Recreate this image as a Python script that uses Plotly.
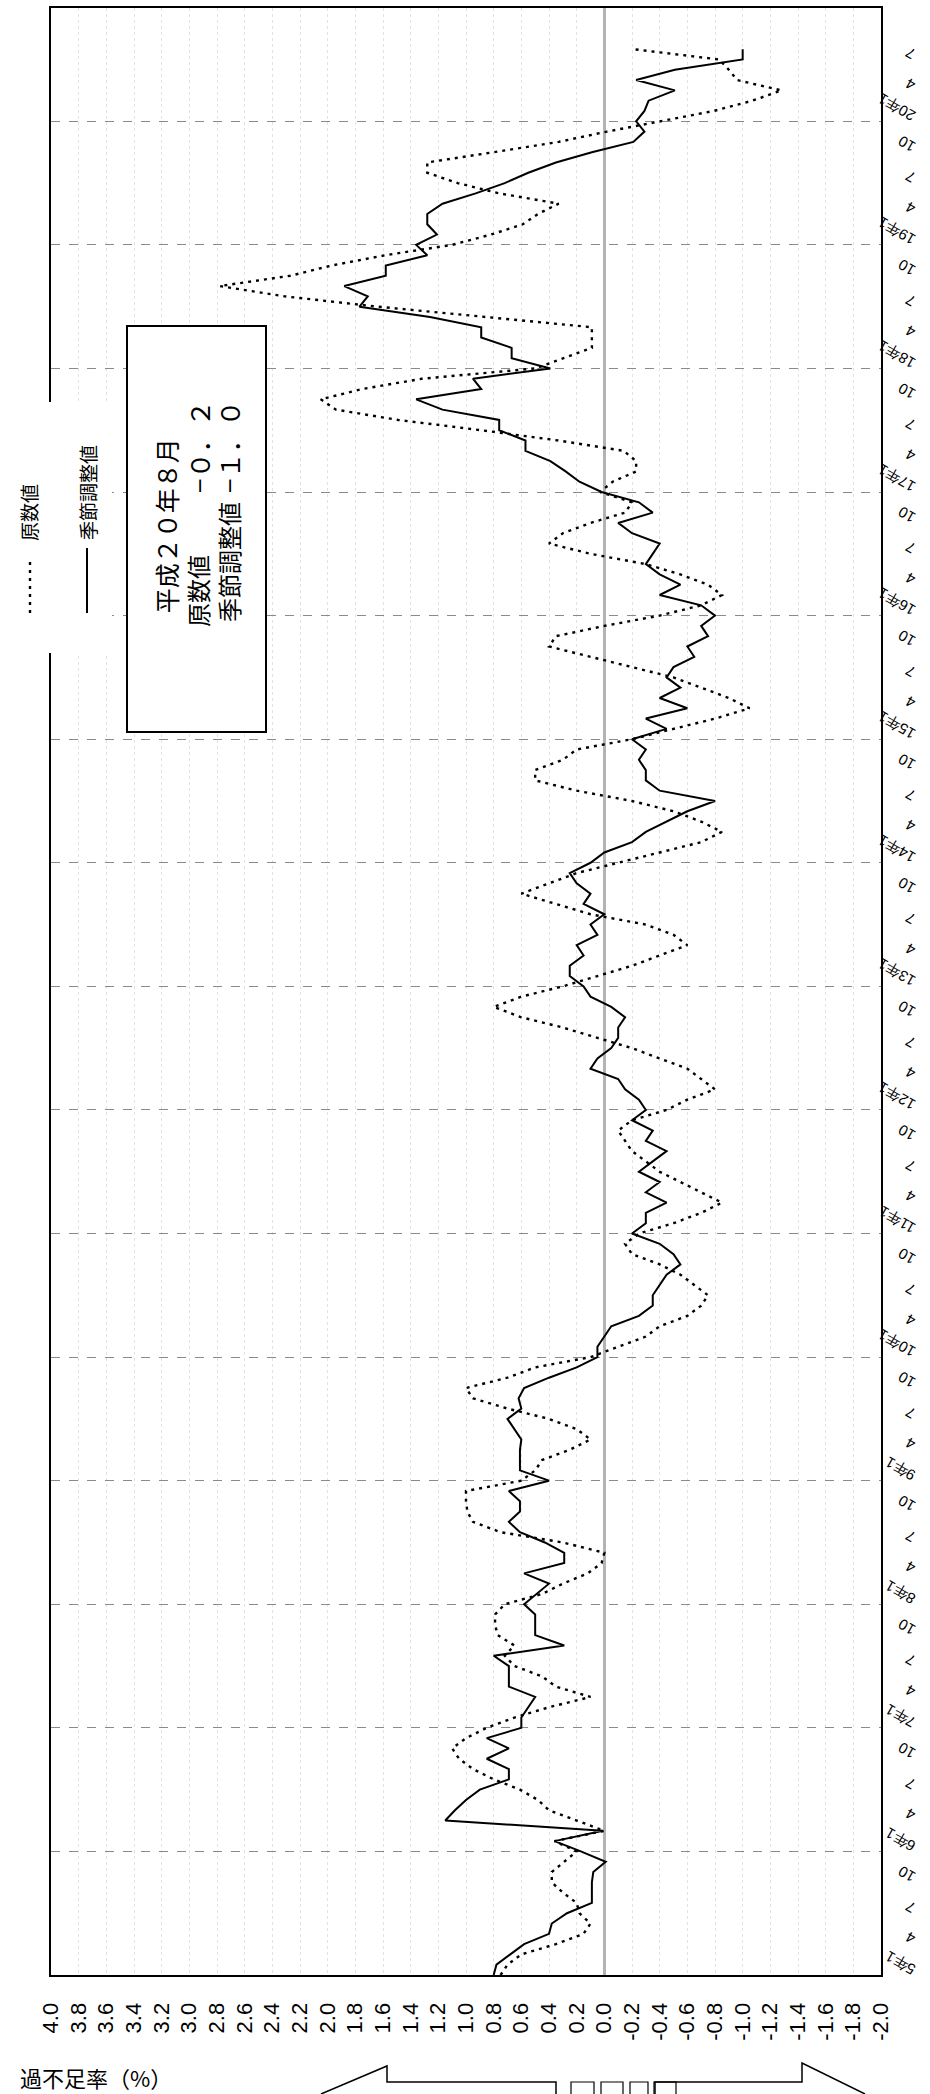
import plotly.graph_objects as go

# ---------------- data (平成5年1月 = index 0, monthly) ----------------
start_year = 5

# 季節調整値
sa = [
    0.80, 0.78, 0.68, 0.58, 0.40, 0.38, 0.27, 0.09, 0.09, 0.09, 0.08, -0.01,   # 5年
    0.17, 0.36, 0.01, 1.15, 1.08, 1.00, 0.90, 0.69, 0.69, 0.85, 0.69, 0.85,    # 6年
    0.60, 0.60, 0.55, 0.50, 0.69, 0.69, 0.69, 0.80, 0.29, 0.50, 0.50, 0.50,    # 7年
    0.58, 0.49, 0.40, 0.58, 0.29, 0.29, 0.43, 0.61, 0.69, 0.61, 0.61, 0.69,    # 8年
    0.40, 0.61, 0.61, 0.61, 0.60, 0.65, 0.70, 0.60, 0.62, 0.58, 0.40, 0.20,    # 9年
    0.05, 0.05, 0.00, -0.05, -0.25, -0.35, -0.35, -0.40, -0.45, -0.55, -0.50, -0.40,  # 10年
    -0.20, -0.30, -0.30, -0.45, -0.30, -0.40, -0.25, -0.35, -0.45, -0.30, -0.35, -0.20,  # 11年
    -0.30, -0.25, -0.15, -0.10, 0.10, 0.05, -0.05, -0.10, -0.10, -0.15, -0.05, 0.10,  # 12年
    0.15, 0.25, 0.25, 0.15, 0.20, 0.05, 0.10, 0.00, 0.15, 0.10, 0.20, 0.25,    # 13年
    0.10, 0.00, -0.20, -0.30, -0.45, -0.60, -0.80, -0.40, -0.30, -0.30, -0.25, -0.30,  # 14年
    -0.20, -0.45, -0.30, -0.60, -0.40, -0.55, -0.45, -0.50, -0.65, -0.60, -0.75, -0.70,  # 15年
    -0.80, -0.70, -0.40, -0.55, -0.40, -0.30, -0.35, -0.40, -0.20, -0.10, -0.35, -0.25,  # 16年
    0.02, 0.18, 0.28, 0.39, 0.57, 0.57, 0.76, 0.76, 1.17, 1.36, 0.89, 0.95,    # 17年
    0.39, 0.67, 0.67, 0.89, 0.89, 1.26, 1.77, 1.71, 1.88, 1.58, 1.58, 1.28,    # 18年
    1.36, 1.21, 1.28, 1.28, 1.17, 0.93, 0.72, 0.55, 0.35, 0.09, -0.21, -0.29,  # 19年
    -0.23, -0.29, -0.32, -0.51, -0.23, -0.51, -1.00, -1.00,                    # 20年
]

# 原数値
raw = [
    0.75, 0.70, 0.60, 0.35, 0.15, 0.10, 0.18, 0.20, 0.30, 0.38, 0.38, 0.29,    # 5年
    0.20, 0.36, 0.00, 0.20, 0.40, 0.48, 0.61, 0.80, 0.95, 1.05, 1.10, 1.00,    # 6年
    0.85, 0.65, 0.40, 0.10, 0.35, 0.45, 0.65, 0.72, 0.65, 0.77, 0.79, 0.79,    # 7年
    0.72, 0.45, 0.30, 0.12, 0.02, 0.00, 0.30, 0.75, 0.95, 0.99, 1.00, 1.00,    # 8年
    0.60, 0.50, 0.45, 0.25, 0.10, 0.20, 0.40, 0.70, 0.95, 1.00, 0.70, 0.50,    # 9年
    0.10, -0.10, -0.30, -0.40, -0.60, -0.70, -0.75, -0.65, -0.55, -0.40, -0.20, -0.15,  # 10年
    -0.25, -0.50, -0.70, -0.85, -0.70, -0.55, -0.40, -0.30, -0.20, -0.15, -0.10, -0.20,  # 11年
    -0.45, -0.60, -0.80, -0.70, -0.60, -0.40, -0.20, 0.05, 0.30, 0.60, 0.80, 0.60,  # 12年
    0.30, 0.05, -0.20, -0.40, -0.60, -0.50, -0.30, 0.10, 0.35, 0.60, 0.40, 0.20,  # 13年
    -0.10, -0.40, -0.70, -0.85, -0.70, -0.50, -0.20, 0.20, 0.50, 0.50, 0.30, 0.20,  # 14年
    -0.20, -0.50, -0.80, -1.05, -0.90, -0.70, -0.50, -0.20, 0.10, 0.40, 0.35, 0.00,  # 15年
    -0.40, -0.70, -0.85, -0.75, -0.55, -0.30, 0.10, 0.40, 0.30, 0.10, -0.15, -0.20,  # 16年
    0.03, -0.06, -0.23, -0.23, -0.14, 0.33, 0.89, 1.49, 1.94, 2.05, 1.75, 1.32,  # 17年
    0.50, 0.29, 0.09, 0.09, 0.09, 0.86, 1.64, 2.31, 2.78, 2.27, 1.97, 1.58,    # 18年
    1.10, 0.82, 0.59, 0.48, 0.33, 0.76, 1.06, 1.28, 1.28, 0.80, 0.33, -0.02,  # 19年
    -0.40, -0.79, -1.07, -1.28, -0.96, -0.90, -0.83, -0.21,                    # 20年
]

value_ticks = [round(4.0 - 0.2 * i, 1) for i in range(31)]
value_ticktext = [("%.1f" % v).replace("-0.0", "0.0") for v in value_ticks]

quarter_ticks = list(range(0, 187, 3))
quarter_ticktext = [(f"{start_year + q // 12}年1" if q % 12 == 0 else str(q % 12 + 1)) for q in quarter_ticks]
year_lines = list(range(12, 187, 12))

month_idx = list(range(len(sa)))

legend_labels = ["原数値", "季節調整値"]
box_title = "平成２０年８月"
box_names = ["原数値", "季節調整値"]
box_values = ["−０．２", "−１．０"]
axis_title = "過不足率（%）"

# ---------------- geometry helpers (pixel -> paper) ----------------
W, H = 930, 2094
L, R, T, B = 51, 881, 8, 1975


def px(x):
    return (x - L) / (R - L)


def py(y):
    return (B - y) / (B - T)


JP = "Noto Sans CJK JP, Noto Sans, sans-serif"
NUM = "Liberation Sans, Arial, sans-serif"

fig = go.Figure()
fig.add_trace(go.Scatter(
    x=raw, y=month_idx, mode="lines", name=legend_labels[0],
    line=dict(color="black", width=2.4, dash="3px,5px"), yaxis="y",
))
fig.add_trace(go.Scatter(
    x=sa, y=month_idx, mode="lines", name=legend_labels[1],
    line=dict(color="black", width=2), yaxis="y",
))

shapes = []
# white patch where the legend interrupts the left frame
shapes.append(dict(type="rect", xref="paper", yref="paper",
                   x0=px(40), x1=px(112), y0=py(653), y1=py(402),
                   fillcolor="white", line=dict(width=0), layer="above"))
# legend samples
shapes.append(dict(type="line", xref="paper", yref="paper",
                   x0=px(30), x1=px(30), y0=py(613), y1=py(557),
                   line=dict(color="black", width=2.4, dash="3px,5px")))
shapes.append(dict(type="line", xref="paper", yref="paper",
                   x0=px(87), x1=px(87), y0=py(613), y1=py(548),
                   line=dict(color="black", width=2)))
# info box
shapes.append(dict(type="rect", xref="paper", yref="paper",
                   x0=px(127), x1=px(266), y0=py(732), y1=py(326),
                   fillcolor="white", line=dict(color="black", width=2), layer="above"))
# bottom arrow decorations
shapes.append(dict(type="path", xref="paper", yref="paper",
                   path=f"M {px(321)},{py(2094)} L {px(387)},{py(2066)} L {px(387)},{py(2082)} "
                        f"L {px(556)},{py(2082)} L {px(556)},{py(2094)}",
                   line=dict(color="black", width=1.5)))
shapes.append(dict(type="path", xref="paper", yref="paper",
                   path=f"M {px(655)},{py(2094)} L {px(655)},{py(2082)} L {px(802)},{py(2082)} "
                        f"L {px(802)},{py(2063)} L {px(865)},{py(2094)}",
                   line=dict(color="black", width=1.5)))
for bx0, bx1 in [(571, 594), (601, 623), (630, 648), (654, 676)]:
    shapes.append(dict(type="rect", xref="paper", yref="paper",
                       x0=px(bx0), x1=px(bx1), y0=py(2096), y1=py(2082),
                       line=dict(color="black", width=1.2)))


def rot_text(text, x, y, size, **kw):
    return dict(text=text, xref="paper", yref="paper", x=px(x), y=py(y),
                xanchor="center", yanchor="middle", showarrow=False, textangle=-90,
                font=dict(family=JP, size=size, color="black"), **kw)


BOX_FS = 24
annotations = [
    rot_text(legend_labels[0], 28, 513, 19),
    rot_text(legend_labels[1], 87, 493, 19),
    # info box: title line, then name / value lines (values aligned)
    rot_text(box_title, 166, 627 - len(box_title) * BOX_FS * 0.6, BOX_FS + 1),
    rot_text(box_names[0], 198, 627 - len(box_names[0]) * BOX_FS / 2, BOX_FS),
    rot_text(box_values[0], 198, 447, BOX_FS + 2),
    rot_text(box_names[1], 228, 622 - len(box_names[1]) * BOX_FS / 2, BOX_FS),
    rot_text(box_values[1], 228, 447, BOX_FS + 2),
    dict(text=axis_title, xref="paper", yref="paper", x=px(18), y=py(2077),
         xanchor="left", yanchor="middle", showarrow=False,
         font=dict(family=JP, size=22, color="black")),
]

fig.update_layout(
    width=W, height=H,
    margin=dict(l=L, r=W - R, t=T, b=H - B, autoexpand=False),
    paper_bgcolor="white", plot_bgcolor="white",
    showlegend=False,
    xaxis=dict(
        range=[4.0, -2.0], tickmode="array", tickvals=value_ticks, ticktext=value_ticktext,
        tickangle=-90, tickfont=dict(family=NUM, size=22, color="black"),
        ticks="", ticklabelstandoff=17,
        showgrid=True, gridcolor="#e2e2e2", griddash="dot", gridwidth=1,
        zeroline=True, zerolinecolor="#b3b3b3", zerolinewidth=3,
        showline=True, mirror=True, linecolor="black", linewidth=2,
    ),
    yaxis=dict(
        range=[0, 191], side="right", tickmode="array",
        tickvals=quarter_ticks, ticktext=quarter_ticktext,
        tickangle=-150, tickfont=dict(family=NUM, size=15, color="black"),
        ticks="", ticklabelstandoff=27,
        showgrid=False, zeroline=False,
        showline=True, mirror=True, linecolor="black", linewidth=2,
    ),
    yaxis2=dict(
        range=[0, 191], overlaying="y", side="right", tickmode="array",
        tickvals=year_lines, showticklabels=False, ticks="",
        showgrid=True, gridcolor="#8a8a8a", griddash="dash", gridwidth=1,
        zeroline=False, showline=False,
    ),
    shapes=shapes,
    annotations=annotations,
)

# invisible trace so that the year grid axis is drawn
fig.add_trace(go.Scatter(x=[None], y=[None], yaxis="y2", showlegend=False, hoverinfo="skip"))

fig.write_html("out.html", config={"displayModeBar": False},
               post_script="document.body.style.margin='0px';")
